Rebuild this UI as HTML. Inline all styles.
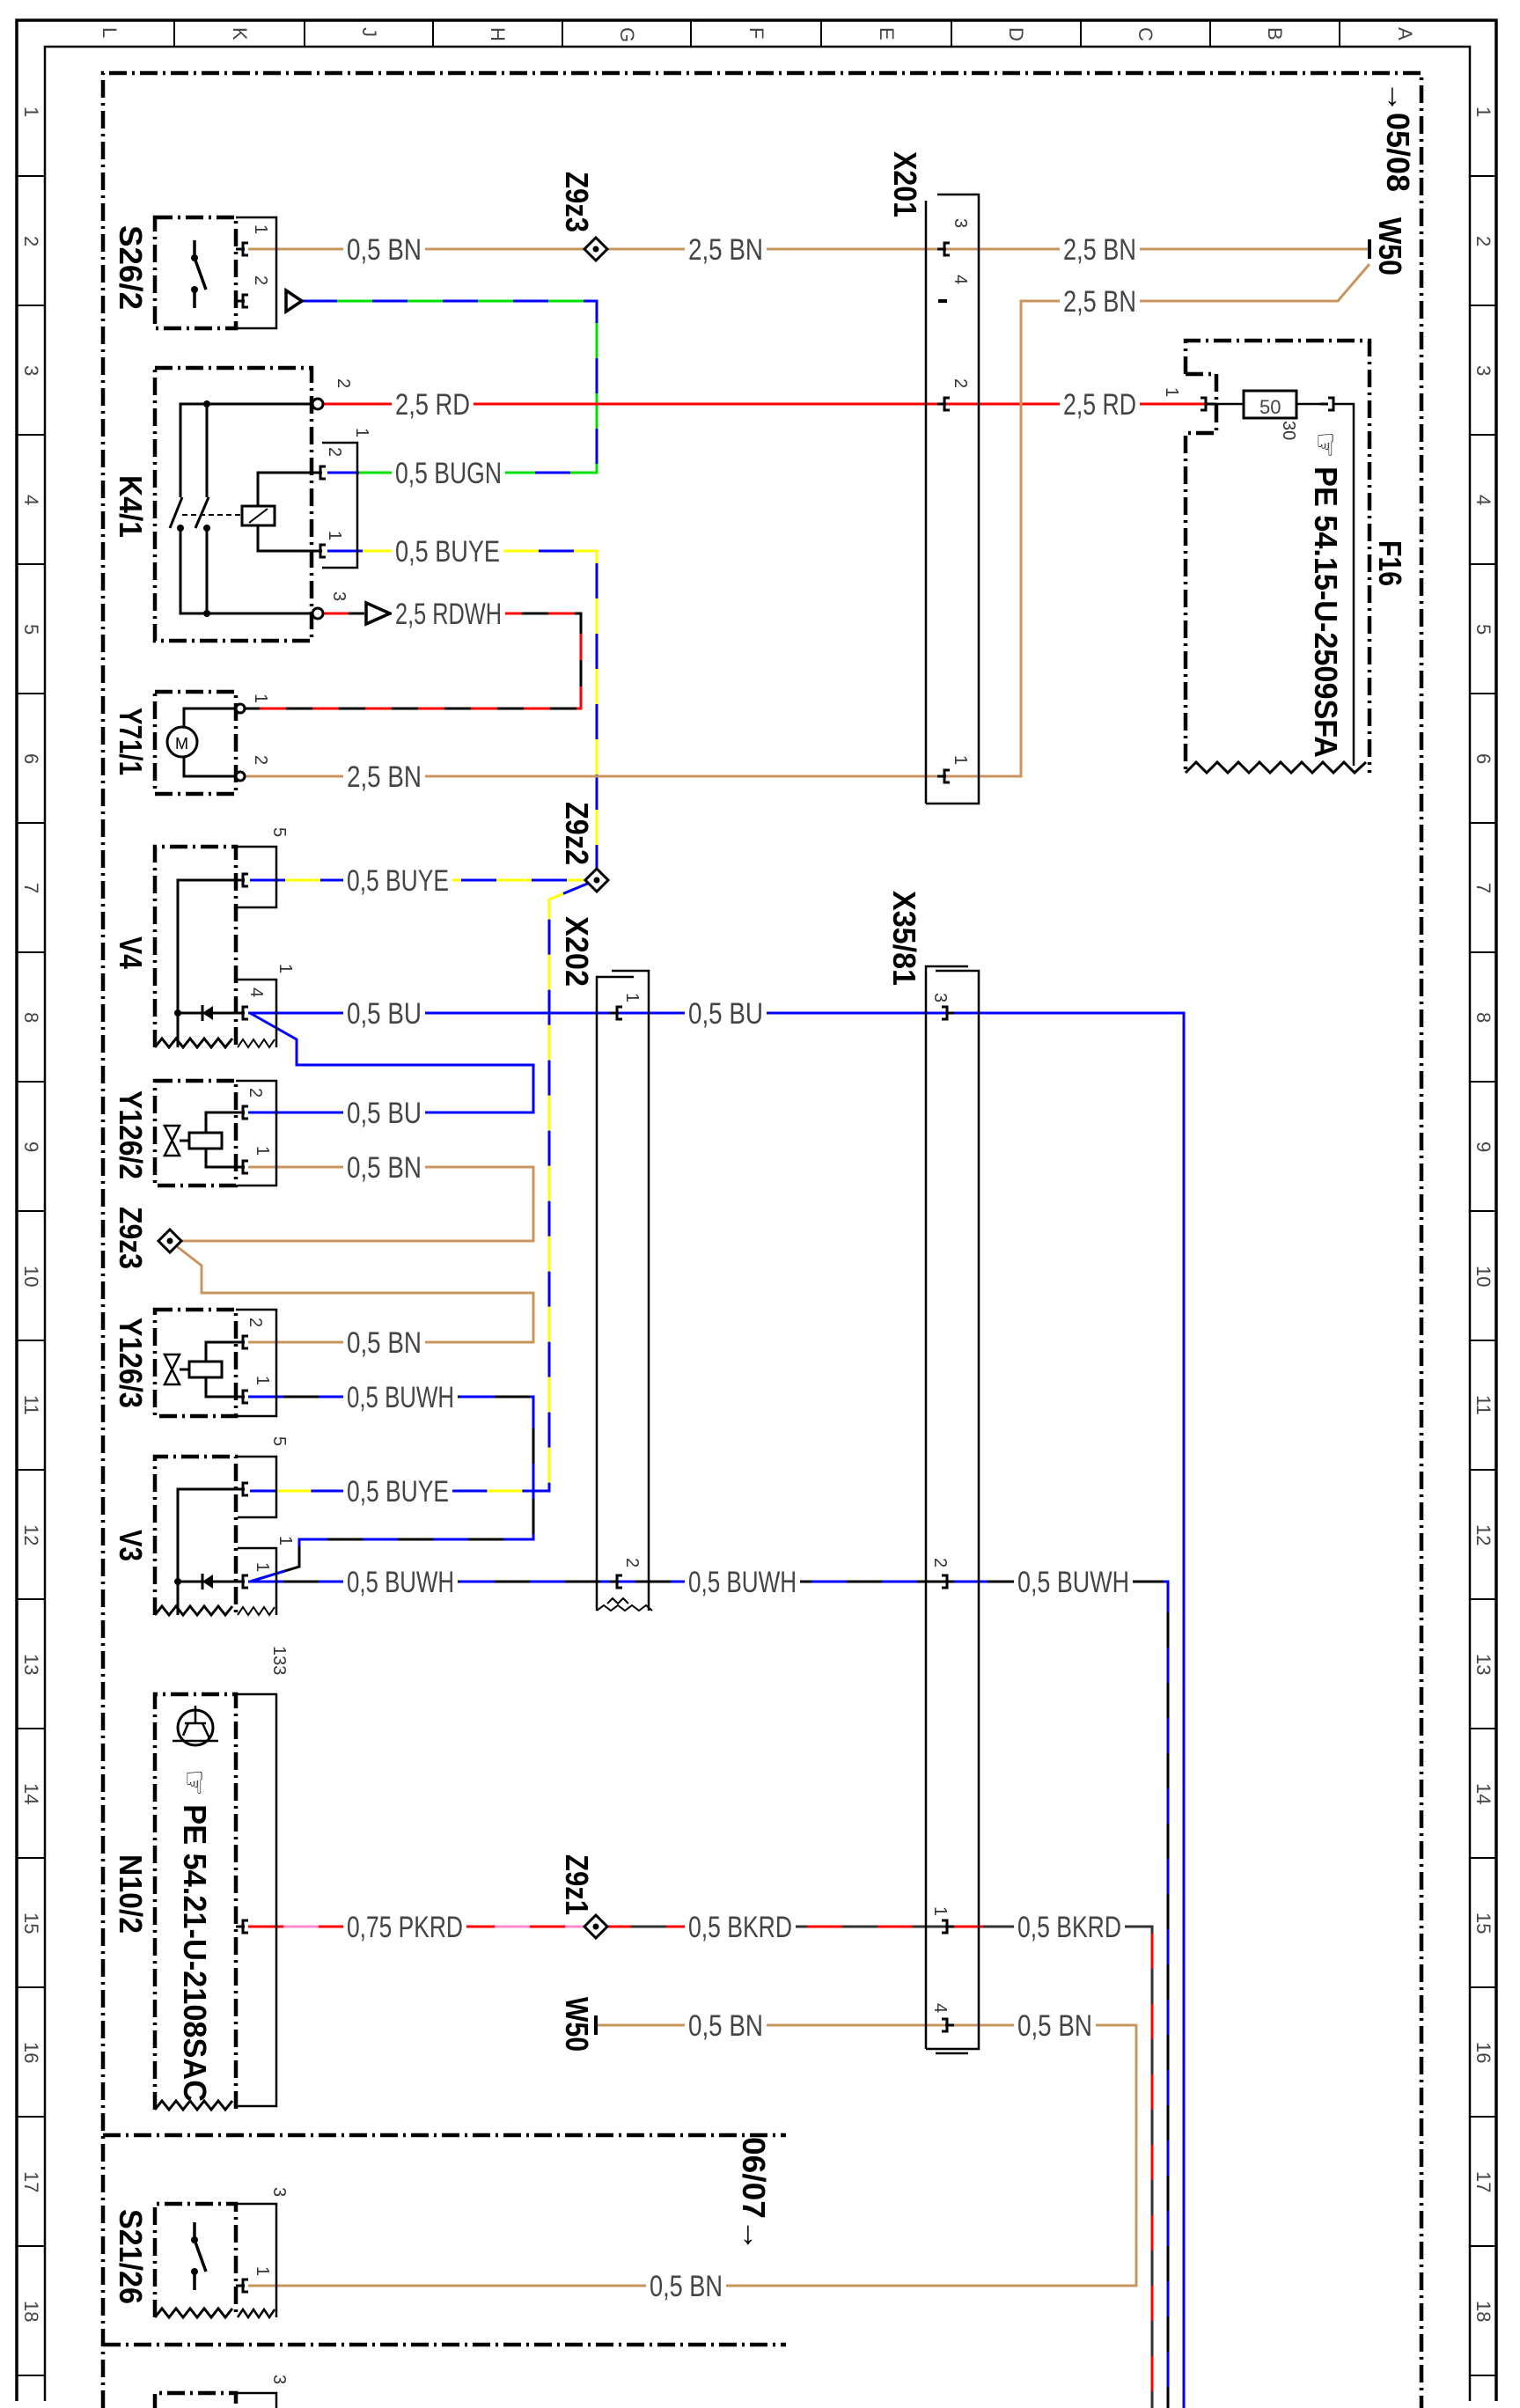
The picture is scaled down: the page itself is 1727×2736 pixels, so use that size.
<!DOCTYPE html>
<html><head><meta charset="utf-8"><style>
html,body{margin:0;padding:0;background:#fff}
svg{display:block}
.f{stroke:#000;fill:none}
.dd{stroke:#000;stroke-width:4.5;fill:none;stroke-dasharray:20 6 3 6}
.w{fill:none;stroke-width:3}
.lb{font-family:"Liberation Sans",sans-serif;font-size:34px;fill:#444}
.bd{font-family:"Liberation Sans","DejaVu Sans",sans-serif;font-size:36px;font-weight:bold;fill:#000}
.pn{font-family:"Liberation Sans",sans-serif;font-size:20px;fill:#333}
.hd{font-family:"Liberation Sans",sans-serif;font-size:22px;fill:#444}
</style></head><body>
<svg width="1727" height="2736" viewBox="0 0 1727 2736" xmlns="http://www.w3.org/2000/svg">
<defs>
<g id="pin"><path d="M-4 0H6M10 -7H4V7H10" stroke="#000" stroke-width="3" fill="none"/></g>
<g id="dia"><path d="M0 -13L13 0L0 13L-13 0Z" fill="#fff" stroke="#000" stroke-width="3"/><circle r="3.5" fill="#000"/></g>
</defs>
<!-- frame -->
<g class="f">
<path d="M19 2728V23H1700V2728" stroke-width="3.5"/>
<path d="M51 2728V53H1670V2728" stroke-width="2.5"/>
<path d="M198 23V53M346 23V53M492 23V53M639 23V53M785 23V53M933 23V53M1081 23V53M1228 23V53M1375 23V53M1522 23V53" stroke-width="2"/>
<path d="M19 200H51M19 347H51M19 494H51M19 641H51M19 788H51M19 935H51M19 1082H51M19 1229H51M19 1376H51M19 1523H51M19 1670H51M19 1817H51M19 1964H51M19 2111H51M19 2258H51M19 2405H51M19 2552H51M19 2699H51" stroke-width="2"/>
<path d="M1670 200H1700M1670 347H1700M1670 494H1700M1670 641H1700M1670 788H1700M1670 935H1700M1670 1082H1700M1670 1229H1700M1670 1376H1700M1670 1523H1700M1670 1670H1700M1670 1817H1700M1670 1964H1700M1670 2111H1700M1670 2258H1700M1670 2405H1700M1670 2552H1700M1670 2699H1700" stroke-width="2"/>
</g>
<g class="hd">
<text transform="translate(117,31) rotate(90)">L</text>
<text transform="translate(265,31) rotate(90)">K</text>
<text transform="translate(412,31) rotate(90)">J</text>
<text transform="translate(558,31) rotate(90)">H</text>
<text transform="translate(705,31) rotate(90)">G</text>
<text transform="translate(852,31) rotate(90)">F</text>
<text transform="translate(1000,31) rotate(90)">E</text>
<text transform="translate(1147,31) rotate(90)">D</text>
<text transform="translate(1294,31) rotate(90)">C</text>
<text transform="translate(1441,31) rotate(90)">B</text>
<text transform="translate(1589,31) rotate(90)">A</text>
</g>
<g class="hd" font-size="20">
<text transform="translate(28,121) rotate(90)">1</text><text transform="translate(28,268) rotate(90)">2</text><text transform="translate(28,415) rotate(90)">3</text><text transform="translate(28,562) rotate(90)">4</text><text transform="translate(28,709) rotate(90)">5</text><text transform="translate(28,856) rotate(90)">6</text><text transform="translate(28,1003) rotate(90)">7</text><text transform="translate(28,1150) rotate(90)">8</text><text transform="translate(28,1297) rotate(90)">9</text><text transform="translate(28,1438) rotate(90)">10</text><text transform="translate(28,1585) rotate(90)">11</text><text transform="translate(28,1732) rotate(90)">12</text><text transform="translate(28,1879) rotate(90)">13</text><text transform="translate(28,2026) rotate(90)">14</text><text transform="translate(28,2173) rotate(90)">15</text><text transform="translate(28,2320) rotate(90)">16</text><text transform="translate(28,2467) rotate(90)">17</text><text transform="translate(28,2614) rotate(90)">18</text>
<text transform="translate(1678,121) rotate(90)">1</text><text transform="translate(1678,268) rotate(90)">2</text><text transform="translate(1678,415) rotate(90)">3</text><text transform="translate(1678,562) rotate(90)">4</text><text transform="translate(1678,709) rotate(90)">5</text><text transform="translate(1678,856) rotate(90)">6</text><text transform="translate(1678,1003) rotate(90)">7</text><text transform="translate(1678,1150) rotate(90)">8</text><text transform="translate(1678,1297) rotate(90)">9</text><text transform="translate(1678,1438) rotate(90)">10</text><text transform="translate(1678,1585) rotate(90)">11</text><text transform="translate(1678,1732) rotate(90)">12</text><text transform="translate(1678,1879) rotate(90)">13</text><text transform="translate(1678,2026) rotate(90)">14</text><text transform="translate(1678,2173) rotate(90)">15</text><text transform="translate(1678,2320) rotate(90)">16</text><text transform="translate(1678,2467) rotate(90)">17</text><text transform="translate(1678,2614) rotate(90)">18</text>
</g>
<!-- outer dash-dot -->
<path class="dd" d="M117 2736V83H1615V2736"/>
<path class="dd" d="M117 2426H893M117 2664H893"/>

<!-- ===== WIRES ===== -->
<g class="w">
<!-- brown row 2 -->
<path d="M282 283H1556" stroke="#c8955e"/>
<!-- BUGN -->
<path d="M343 342H678V537H372" stroke="#00e000"/>
<path d="M343 342H678V537H372" stroke="#0000ff" stroke-dasharray="40 40"/>
<!-- RD -->
<path d="M366 459H1375" stroke="#ff0000"/>
<!-- BUYE -->
<path d="M372 626H678V1000M284 1000H677M677 1000L624 1022V1694H284" stroke="#ffff00"/>
<path d="M372 626H678V1000M284 1000H677M677 1000L624 1022V1694H284" stroke="#0000ff" stroke-dasharray="40 40"/>
<!-- RDWH -->
<path d="M366 697H414M443 697H660V805H278" stroke="#000"/>
<path d="M366 697H414M443 697H660V805H278" stroke="#ff0000" stroke-dasharray="30 30"/>
<!-- BN Y71 -->
<path d="M278 882H1160V342H1520L1556 300" stroke="#c8955e"/>
<!-- BU -->
<path d="M282 1151H1345V2736M284 1151L337 1181V1210H606V1264H282" stroke="#0000ff"/>
<!-- BN loops -->
<path d="M282 1326H606V1410H193M193 1410L229 1438V1469H606V1525H282" stroke="#c8955e"/>
<!-- BUWH -->
<path d="M282 1587H606V1749H340V1780L284 1797M282 1797H1327V2736" stroke="#000"/>
<path d="M282 1587H606V1749H340V1780L284 1797M282 1797H1327V2736" stroke="#0000ff" stroke-dasharray="40 40"/>
<!-- PKRD -->
<path d="M282 2189H677" stroke="#ff88cc"/>
<path d="M282 2189H677" stroke="#ff0000" stroke-dasharray="40 40"/>
<!-- BKRD -->
<path d="M677 2189H1309V2736" stroke="#333"/>
<path d="M677 2189H1309V2736" stroke="#ff0000" stroke-dasharray="40 40"/>
<!-- BN lower -->
<path d="M677 2301H1291V2597H282" stroke="#c8955e"/>
</g>

<!-- ===== COMPONENTS ===== -->
<!-- S26/2 -->
<rect class="dd" x="176" y="247" width="92" height="126"/>
<path class="f" stroke-width="2.5" d="M268 247H314V373H270"/>
<use href="#pin" x="272" y="283"/><use href="#pin" x="272" y="342"/>
<path class="f" stroke-width="3.5" d="M221 273V293L234 329M221 329V350"/>
<circle cx="221" cy="293" r="4"/><circle cx="221" cy="329" r="4"/>
<path d="M325 330L343 342L325 354Z" fill="#fff" stroke="#000" stroke-width="3.5"/>

<!-- K4/1 -->
<rect class="dd" x="176" y="418" width="178" height="310"/>
<path class="f" stroke-width="2.5" d="M366 503H406V645H366"/>
<path class="f" stroke-width="3" d="M354 459H205V565M235 459V565M193 600L207 565M222 600L237 565M205 600V697H354M235 600V697M366 537H293V575M293 597V626H366"/>
<rect x="275" y="575" width="37" height="22" fill="#fff" stroke="#000" stroke-width="3"/>
<path d="M283 594L304 578" stroke="#000" stroke-width="2"/>
<path d="M207 585H275" stroke="#000" stroke-width="2" stroke-dasharray="6 4"/>
<circle cx="235" cy="459" r="4"/><circle cx="235" cy="697" r="4"/><circle cx="205" cy="600" r="4"/><circle cx="235" cy="600" r="4"/>
<circle cx="361" cy="459" r="6" fill="#fff" stroke="#000" stroke-width="3"/>
<circle cx="361" cy="697" r="6" fill="#fff" stroke="#000" stroke-width="3"/>
<use href="#pin" x="360" y="537"/><use href="#pin" x="360" y="626"/>
<path d="M416 685L443 697L416 709Z" fill="#fff" stroke="#000" stroke-width="3.5"/>

<!-- Y71/1 -->
<rect class="dd" x="176" y="786" width="92" height="116"/>
<path class="f" stroke-width="3" d="M268 805H209V826M209 860V882H268"/>
<circle cx="207" cy="843" r="17" fill="#fff" stroke="#000" stroke-width="3"/>
<text x="199" y="851" font-family="Liberation Sans" font-size="18">M</text>
<circle cx="273" cy="805" r="5" fill="#fff" stroke="#000" stroke-width="3"/>
<circle cx="273" cy="882" r="5" fill="#fff" stroke="#000" stroke-width="3"/>

<!-- V4 -->
<path class="dd" d="M176 1190V962H268V1190"/>
<path class="f" stroke-width="3" d="M176 1190l8-10 8 10 8-10 8 10 8-10 8 10 8-10 8 10 8-10 8 10 8-10"/>
<path class="f" stroke-width="2.5" d="M268 962H314V1031H270M270 1113H314V1190"/>
<path class="f" stroke-width="2" d="M270 1190l6-9 6 9 6-9 6 9 6-9 6 9 6-9"/>
<use href="#pin" x="272" y="1000"/><use href="#pin" x="272" y="1151"/>
<path class="f" stroke-width="3" d="M268 1000H202V1190M202 1151H268M230 1142V1160"/>
<path d="M230 1151L242 1143V1159Z" fill="#000"/>
<circle cx="202" cy="1151" r="4"/>

<!-- Y126/2 -->
<rect class="dd" x="176" y="1228" width="92" height="119"/>
<path class="f" stroke-width="2.5" d="M268 1228H314V1347H270"/>
<use href="#pin" x="272" y="1264"/><use href="#pin" x="272" y="1326"/>
<path class="f" stroke-width="3" d="M268 1264H234V1287M234 1305V1326H268M204 1296H215"/>
<rect x="215" y="1287" width="37" height="18" fill="#fff" stroke="#000" stroke-width="3"/>
<path class="f" stroke-width="2.5" d="M187 1279H204L187 1313H204Z"/>

<!-- Z9z3 small -->
<use href="#dia" x="193" y="1410"/>

<!-- Y126/3 -->
<rect class="dd" x="176" y="1488" width="92" height="121"/>
<path class="f" stroke-width="2.5" d="M268 1488H314V1609H270"/>
<use href="#pin" x="272" y="1525"/><use href="#pin" x="272" y="1587"/>
<path class="f" stroke-width="3" d="M268 1525H234V1547M234 1565V1587H268M204 1556H215"/>
<rect x="215" y="1547" width="37" height="18" fill="#fff" stroke="#000" stroke-width="3"/>
<path class="f" stroke-width="2.5" d="M187 1539H204L187 1573H204Z"/>

<!-- V3 -->
<path class="dd" d="M176 1835V1655H268V1835"/>
<path class="f" stroke-width="3" d="M176 1835l8-10 8 10 8-10 8 10 8-10 8 10 8-10 8 10 8-10 8 10 8-10"/>
<path class="f" stroke-width="2.5" d="M268 1655H314V1724H270M270 1759H314V1835"/>
<path class="f" stroke-width="2" d="M270 1835l6-9 6 9 6-9 6 9 6-9 6 9 6-9"/>
<use href="#pin" x="272" y="1692"/><use href="#pin" x="272" y="1797"/>
<path class="f" stroke-width="3" d="M268 1692H202V1835M202 1797H268M230 1788V1806"/>
<path d="M230 1797L242 1789V1805Z" fill="#000"/>
<circle cx="202" cy="1797" r="4"/>

<!-- N10/2 -->
<path class="dd" d="M176 2397V1925H268V2397"/>
<path class="f" stroke-width="3" d="M176 2397l8-10 8 10 8-10 8 10 8-10 8 10 8-10 8 10 8-10 8 10 8-10"/>
<path class="f" stroke-width="2.5" d="M268 1925H314V2393H270"/>
<use href="#pin" x="272" y="2189"/>
<circle cx="222" cy="1963" r="20" fill="none" stroke="#000" stroke-width="3"/>
<path class="f" stroke-width="2.5" d="M196 1978H248M222 1938V1958M210 1958H234M214 1958L208 1972M230 1958L238 1975"/>

<!-- S21/26 -->
<path class="dd" d="M176 2633V2504H268V2633"/>
<path class="f" stroke-width="3" d="M176 2633l8-10 8 10 8-10 8 10 8-10 8 10 8-10 8 10 8-10 8 10 8-10"/>
<path class="f" stroke-width="2.5" d="M268 2504H314V2633M270 2633l6-9 6 9 6-9 6 9 6-9 6 9 6-9"/>
<use href="#pin" x="272" y="2597"/>
<path class="f" stroke-width="3.5" d="M221 2525V2545L234 2581M221 2581V2602"/>
<circle cx="221" cy="2545" r="4"/><circle cx="221" cy="2581" r="4"/>
<!-- bottom partial -->
<path class="dd" d="M176 2740V2719H268V2740"/>
<path class="f" stroke-width="2.5" d="M268 2719H314V2736"/>

<!-- X201 -->
<path class="f" stroke-width="2.5" d="M1052 913V228M1065 221H1112V913H1052"/>
<use href="#pin" x="1069" y="283"/><use href="#pin" x="1069" y="459"/><use href="#pin" x="1069" y="882"/>
<path d="M1066 342H1076" stroke="#000" stroke-width="4"/>
<!-- X202 -->
<path class="f" stroke-width="2.5" d="M678 1830V1110H720M695 1103H737V1830"/>
<path class="f" stroke-width="2" d="M678 1830l8 -6 8 6 8 -6 8 6 8 -6 8 6 8 -6 7 6"/>
<path class="f" stroke-width="2" d="M690 1822l6 -6 6 6 6 -6 6 6"/>
<use href="#pin" x="697" y="1151"/><use href="#pin" x="697" y="1797"/>
<!-- X35/81 -->
<path class="f" stroke-width="2.5" d="M1052 2328V1098H1100M1063 1103H1112V2328H1052M1063 2333H1100"/>
<use href="#pin" x="1090" y="1151" transform="translate(2170,0) scale(-1,1)"/>
<use href="#pin" x="1090" y="1797" transform="translate(2170,0) scale(-1,1)"/>
<use href="#pin" x="1090" y="2189" transform="translate(2170,0) scale(-1,1)"/>
<use href="#pin" x="1090" y="2301" transform="translate(2170,0) scale(-1,1)"/>

<!-- F16 -->
<path class="dd" d="M1347 425V387H1556V878M1347 425H1382V492H1347V878"/>
<path class="f" stroke-width="3" d="M1347 878l12-12 12 12 12-12 12 12 12-12 12 12 12-12 12 12 12-12 12 12 12-12 12 12 12-12 12 12 12-12 12 12 13-12"/>
<path class="f" stroke-width="2.5" d="M1375 459H1413M1473 459H1508M1516 459H1538V870"/>
<rect x="1413" y="444" width="60" height="31" fill="#fff" stroke="#000" stroke-width="3"/>
<text x="1431" y="470" font-family="Liberation Sans" font-size="22" fill="#444">50</text>
<path d="M1364 452h6v14h-6M1370 459H1382" stroke="#000" stroke-width="3" fill="none"/>
<path d="M1500 459h9M1509 452h6v14h-6" stroke="#000" stroke-width="3" fill="none"/>

<!-- diamonds & ticks -->
<use href="#dia" x="677" y="283"/><use href="#dia" x="678" y="1000"/><use href="#dia" x="677" y="2189"/>
<path d="M1556 272V294M677 2290V2312" stroke="#000" stroke-width="4"/>

<!-- ===== WIRE LABELS ===== -->
<g class="lb">
<rect x="390" y="268" width="93" height="30" fill="#fff"/><text x="394" y="295" textLength="85" lengthAdjust="spacingAndGlyphs">0,5 BN</text>
<rect x="778" y="268" width="93" height="30" fill="#fff"/><text x="782" y="295" textLength="85" lengthAdjust="spacingAndGlyphs">2,5 BN</text>
<rect x="1204" y="268" width="91" height="30" fill="#fff"/><text x="1208" y="295" textLength="83" lengthAdjust="spacingAndGlyphs">2,5 BN</text>
<rect x="1204" y="327" width="91" height="30" fill="#fff"/><text x="1208" y="354" textLength="83" lengthAdjust="spacingAndGlyphs">2,5 BN</text>
<rect x="445" y="444" width="93" height="30" fill="#fff"/><text x="449" y="471" textLength="85" lengthAdjust="spacingAndGlyphs">2,5 RD</text>
<rect x="1204" y="444" width="91" height="30" fill="#fff"/><text x="1208" y="471" textLength="83" lengthAdjust="spacingAndGlyphs">2,5 RD</text>
<rect x="445" y="522" width="129" height="30" fill="#fff"/><text x="449" y="549" textLength="121" lengthAdjust="spacingAndGlyphs">0,5 BUGN</text>
<rect x="445" y="611" width="127" height="30" fill="#fff"/><text x="449" y="638" textLength="119" lengthAdjust="spacingAndGlyphs">0,5 BUYE</text>
<rect x="445" y="682" width="129" height="30" fill="#fff"/><text x="449" y="709" textLength="121" lengthAdjust="spacingAndGlyphs">2,5 RDWH</text>
<rect x="390" y="867" width="93" height="30" fill="#fff"/><text x="394" y="894" textLength="85" lengthAdjust="spacingAndGlyphs">2,5 BN</text>
<rect x="390" y="985" width="124" height="30" fill="#fff"/><text x="394" y="1012" textLength="116" lengthAdjust="spacingAndGlyphs">0,5 BUYE</text>
<rect x="390" y="1136" width="93" height="30" fill="#fff"/><text x="394" y="1163" textLength="85" lengthAdjust="spacingAndGlyphs">0,5 BU</text>
<rect x="778" y="1136" width="93" height="30" fill="#fff"/><text x="782" y="1163" textLength="85" lengthAdjust="spacingAndGlyphs">0,5 BU</text>
<rect x="390" y="1249" width="93" height="30" fill="#fff"/><text x="394" y="1276" textLength="85" lengthAdjust="spacingAndGlyphs">0,5 BU</text>
<rect x="390" y="1311" width="93" height="30" fill="#fff"/><text x="394" y="1338" textLength="85" lengthAdjust="spacingAndGlyphs">0,5 BN</text>
<rect x="390" y="1510" width="93" height="30" fill="#fff"/><text x="394" y="1537" textLength="85" lengthAdjust="spacingAndGlyphs">0,5 BN</text>
<rect x="390" y="1572" width="130" height="30" fill="#fff"/><text x="394" y="1599" textLength="122" lengthAdjust="spacingAndGlyphs">0,5 BUWH</text>
<rect x="390" y="1679" width="124" height="30" fill="#fff"/><text x="394" y="1706" textLength="116" lengthAdjust="spacingAndGlyphs">0,5 BUYE</text>
<rect x="390" y="1782" width="130" height="30" fill="#fff"/><text x="394" y="1809" textLength="122" lengthAdjust="spacingAndGlyphs">0,5 BUWH</text>
<rect x="778" y="1782" width="131" height="30" fill="#fff"/><text x="782" y="1809" textLength="123" lengthAdjust="spacingAndGlyphs">0,5 BUWH</text>
<rect x="1152" y="1782" width="135" height="30" fill="#fff"/><text x="1156" y="1809" textLength="127" lengthAdjust="spacingAndGlyphs">0,5 BUWH</text>
<rect x="390" y="2174" width="140" height="30" fill="#fff"/><text x="394" y="2201" textLength="132" lengthAdjust="spacingAndGlyphs">0,75 PKRD</text>
<rect x="778" y="2174" width="126" height="30" fill="#fff"/><text x="782" y="2201" textLength="118" lengthAdjust="spacingAndGlyphs">0,5 BKRD</text>
<rect x="1152" y="2174" width="126" height="30" fill="#fff"/><text x="1156" y="2201" textLength="118" lengthAdjust="spacingAndGlyphs">0,5 BKRD</text>
<rect x="778" y="2286" width="93" height="30" fill="#fff"/><text x="782" y="2313" textLength="85" lengthAdjust="spacingAndGlyphs">0,5 BN</text>
<rect x="1152" y="2286" width="93" height="30" fill="#fff"/><text x="1156" y="2313" textLength="85" lengthAdjust="spacingAndGlyphs">0,5 BN</text>
<rect x="734" y="2582" width="91" height="30" fill="#fff"/><text x="738" y="2609" textLength="83" lengthAdjust="spacingAndGlyphs">0,5 BN</text>
</g>

<!-- ===== BOLD ROTATED LABELS ===== -->
<g class="bd">
<text transform="translate(643,195) rotate(90)" textLength="69" lengthAdjust="spacingAndGlyphs">Z9z3</text>
<text transform="translate(1016,172) rotate(90)" textLength="75" lengthAdjust="spacingAndGlyphs">X201</text>
<text transform="translate(1567,247) rotate(90)" textLength="66" lengthAdjust="spacingAndGlyphs">W50</text>
<text transform="translate(1576,92) rotate(90)" textLength="126" lengthAdjust="spacingAndGlyphs">→05/08</text>
<text transform="translate(1567,614) rotate(90)" textLength="52" lengthAdjust="spacingAndGlyphs">F16</text>
<text transform="translate(1494,490) rotate(90)" textLength="371" lengthAdjust="spacingAndGlyphs">☞ PE 54.15-U-2509SFA</text>
<text transform="translate(136,256) rotate(90)" textLength="96" lengthAdjust="spacingAndGlyphs">S26/2</text>
<text transform="translate(136,540) rotate(90)" textLength="71" lengthAdjust="spacingAndGlyphs">K4/1</text>
<text transform="translate(136,804) rotate(90)" textLength="77" lengthAdjust="spacingAndGlyphs">Y71/1</text>
<text transform="translate(643,911) rotate(90)" textLength="72" lengthAdjust="spacingAndGlyphs">Z9z2</text>
<text transform="translate(136,1064) rotate(90)" textLength="37" lengthAdjust="spacingAndGlyphs">V4</text>
<text transform="translate(643,1041) rotate(90)" textLength="80" lengthAdjust="spacingAndGlyphs">X202</text>
<text transform="translate(136,1239) rotate(90)" textLength="101" lengthAdjust="spacingAndGlyphs">Y126/2</text>
<text transform="translate(136,1371) rotate(90)" textLength="71" lengthAdjust="spacingAndGlyphs">Z9z3</text>
<text transform="translate(136,1497) rotate(90)" textLength="103" lengthAdjust="spacingAndGlyphs">Y126/3</text>
<text transform="translate(1015,1012) rotate(90)" textLength="108" lengthAdjust="spacingAndGlyphs">X35/81</text>
<text transform="translate(136,1738) rotate(90)" textLength="36" lengthAdjust="spacingAndGlyphs">V3</text>
<text transform="translate(136,2107) rotate(90)" textLength="90" lengthAdjust="spacingAndGlyphs">N10/2</text>
<text transform="translate(209,2010) rotate(90)" textLength="378" lengthAdjust="spacingAndGlyphs">☞ PE 54.21-U-2108SAC</text>
<text transform="translate(643,2107) rotate(90)" textLength="69" lengthAdjust="spacingAndGlyphs">Z9z1</text>
<text transform="translate(643,2269) rotate(90)" textLength="62" lengthAdjust="spacingAndGlyphs">W50</text>
<text transform="translate(844,2428) rotate(90)" textLength="130" lengthAdjust="spacingAndGlyphs">06/07→</text>
<text transform="translate(136,2510) rotate(90)" textLength="108" lengthAdjust="spacingAndGlyphs">S21/26</text>
</g>

<!-- ===== PIN NUMBERS ===== -->
<g class="pn">
<text transform="translate(290,255) rotate(90)">1</text>
<text transform="translate(290,313) rotate(90)">2</text>
<text transform="translate(384,430) rotate(90)">2</text>
<text transform="translate(405,486) rotate(90)">1</text>
<text transform="translate(374,508) rotate(90)">2</text>
<text transform="translate(374,603) rotate(90)">1</text>
<text transform="translate(379,672) rotate(90)">3</text>
<text transform="translate(290,788) rotate(90)">1</text>
<text transform="translate(290,858) rotate(90)">2</text>
<text transform="translate(311,940) rotate(90)">5</text>
<text transform="translate(318,1095) rotate(90)">1</text>
<text transform="translate(285,1122) rotate(90)">4</text>
<text transform="translate(284,1236) rotate(90)">2</text>
<text transform="translate(292,1302) rotate(90)">1</text>
<text transform="translate(284,1497) rotate(90)">2</text>
<text transform="translate(292,1563) rotate(90)">1</text>
<text transform="translate(311,1632) rotate(90)">5</text>
<text transform="translate(318,1745) rotate(90)">1</text>
<text transform="translate(292,1775) rotate(90)">1</text>
<text transform="translate(311,1870) rotate(90)">133</text>
<text transform="translate(311,2485) rotate(90)">3</text>
<text transform="translate(292,2575) rotate(90)">1</text>
<text transform="translate(311,2698) rotate(90)">3</text>
<text transform="translate(1085,248) rotate(90)">3</text>
<text transform="translate(1085,312) rotate(90)">4</text>
<text transform="translate(1085,430) rotate(90)">2</text>
<text transform="translate(1085,858) rotate(90)">1</text>
<text transform="translate(712,1128) rotate(90)">1</text>
<text transform="translate(712,1770) rotate(90)">2</text>
<text transform="translate(1062,1128) rotate(90)">3</text>
<text transform="translate(1062,1770) rotate(90)">2</text>
<text transform="translate(1062,2166) rotate(90)">1</text>
<text transform="translate(1062,2276) rotate(90)">4</text>
<text transform="translate(1325,440) rotate(90)">1</text>
<text transform="translate(1458,478) rotate(90)">30</text>
</g>
</svg>
</body></html>
